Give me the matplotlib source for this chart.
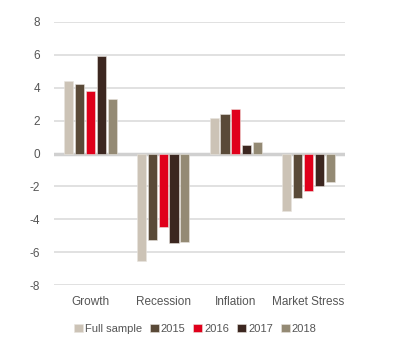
import numpy as np
import matplotlib
matplotlib.use("Agg")
import matplotlib.pyplot as plt

plt.rcParams['font.family'] = ['DejaVu Sans Condensed', 'Liberation Sans Narrow', 'Liberation Sans', 'DejaVu Sans']

categories = ["Growth", "Recession", "Inflation", "Market Stress"]
series_names = ["Full sample", "2015", "2016", "2017", "2018"]
full_sample = [4.4, -6.55, 2.15, -3.5]
y2015 = [4.2, -5.25, 2.4, -2.7]
y2016 = [3.8, -4.5, 2.7, -2.3]
y2017 = [5.95, -5.45, 0.5, -2.0]
y2018 = [3.3, -5.4, 0.7, -1.75]
colors = ["#ccc3b6", "#5a4a38", "#e0001b", "#3c2720", "#948a74"]

series = [full_sample, y2015, y2016, y2017, y2018]

fig = plt.figure(figsize=(4.01, 3.51), dpi=100)
ax = fig.add_axes([54 / 401, 66 / 351, 291 / 401, 263 / 351])

x = np.arange(len(categories))
step = 0.15
width = 0.125
for i, (vals, name, c) in enumerate(zip(series, series_names, colors)):
    ax.bar(x + (i - 2) * step, vals, width, color=c, label=name,
           edgecolor="#e8e4de", linewidth=0.4, zorder=3)

ax.set_xlim(-0.5, 3.5)
ax.set_ylim(-8, 8)
ax.set_yticks(range(-8, 9, 2))
ax.set_yticklabels([str(v) for v in range(-8, 9, 2)])
ax.grid(axis='y', color="#dedede", linewidth=1.3, zorder=0)
ax.axhline(0, color="#d0d0d0", linewidth=2.5, zorder=2)
for s in ax.spines.values():
    s.set_visible(False)
ax.tick_params(axis='both', length=0, labelsize=8.5, colors="#555555")
ax.tick_params(axis='y', pad=10)
ax.set_xticks(x)
ax.set_xticklabels(categories)
ax.tick_params(axis='x', pad=8)

ax.legend(loc='upper center', bbox_to_anchor=(0.485, -0.11), ncol=5, frameon=False,
          fontsize=8, handlelength=0.8, handleheight=0.8, handletextpad=0.2,
          columnspacing=0.7, labelcolor="#555555")

fig.savefig("out.png", dpi=100)
